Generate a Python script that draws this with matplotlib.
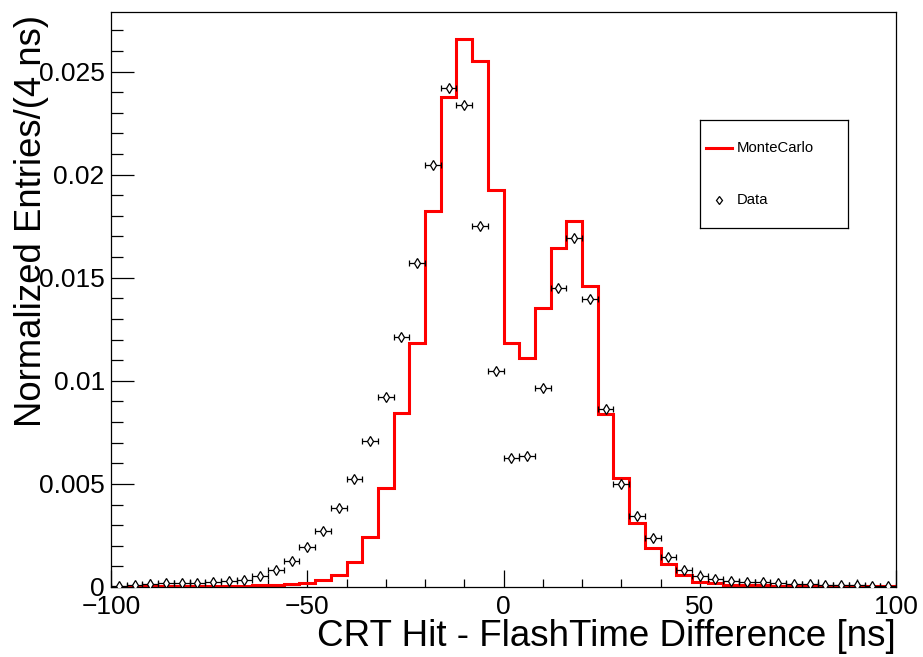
import numpy as np
import matplotlib
matplotlib.use("Agg")
import matplotlib.pyplot as plt
from matplotlib.ticker import MultipleLocator, FuncFormatter

plt.rcParams['font.family'] = ['Liberation Sans', 'DejaVu Sans']

# 4 ns bins from -100 to 100 ns
bin_edges = np.arange(-100, 101, 4)
bin_centers = 0.5 * (bin_edges[:-1] + bin_edges[1:])

# simulated (MonteCarlo) normalized entries per bin
mc_vals = [
    0.00002, 0.00002, 0.00003, 0.00003, 0.00003, 0.00004, 0.00004, 0.00005,
    0.00006, 0.00008, 0.00010, 0.00013, 0.00021, 0.00034, 0.00058, 0.00120,
    0.00241, 0.00479, 0.00845, 0.01182, 0.01822, 0.02378, 0.02656, 0.02551,
    0.01925,
    0.01182, 0.01109, 0.01355, 0.01646, 0.01775, 0.01460, 0.00839, 0.00530,
    0.00312, 0.00188, 0.00110, 0.00058, 0.00026, 0.00018, 0.00012, 0.00010,
    0.00008, 0.00007, 0.00006, 0.00005, 0.00005, 0.00004, 0.00004, 0.00003,
    0.00003,
]

# measured data, normalized entries per bin
data_vals = [
    0.00006, 0.00010, 0.00015, 0.00018, 0.00019, 0.00021, 0.00024, 0.00028,
    0.00034, 0.00052, 0.00082, 0.00128, 0.00192, 0.00273, 0.00385, 0.00524,
    0.00710, 0.00921, 0.01211, 0.01570, 0.02047, 0.02421, 0.02336, 0.01750,
    0.01048,
    0.00624, 0.00634, 0.00967, 0.01448, 0.01694, 0.01395, 0.00862, 0.00500,
    0.00346, 0.00236, 0.00147, 0.00084, 0.00053, 0.00037, 0.00029, 0.00026,
    0.00023, 0.00019, 0.00016, 0.00013, 0.00012, 0.00010, 0.00010, 0.00006,
    0.00005,
]

fig = plt.figure(figsize=(9.23, 6.57), dpi=100)
ax = fig.add_axes([111 / 923, 1 - 587 / 657, 785 / 923, 575 / 657])

ax.stairs(mc_vals, bin_edges, color='red', lw=2.2, zorder=2)
ax.errorbar(bin_centers, data_vals, xerr=2, fmt='d', ms=5, mfc='white',
            mec='black', mew=0.9, ecolor='black', elinewidth=0.9,
            capsize=2.5, capthick=0.9, zorder=3)

ax.set_xlim(-100, 100)
ax.set_ylim(0, 1.05 * max(mc_vals))

ax.xaxis.set_major_locator(MultipleLocator(50))
ax.xaxis.set_minor_locator(MultipleLocator(10))
ax.yaxis.set_major_locator(MultipleLocator(0.005))
ax.yaxis.set_minor_locator(MultipleLocator(0.001))
ax.yaxis.set_major_formatter(FuncFormatter(lambda v, p: '%g' % round(v, 4)))

ax.tick_params(axis='both', which='both', direction='in', top=False, right=False,
               labelsize=19, width=0.9)
ax.tick_params(axis='x', which='major', length=12, pad=6)
ax.tick_params(axis='x', which='minor', length=6)
ax.tick_params(axis='y', which='major', length=16.5, pad=4.5)
ax.tick_params(axis='y', which='minor', length=8.5)
for s in ax.spines.values():
    s.set_linewidth(0.9)

ax.set_xlabel('CRT Hit - FlashTime Difference [ns]', fontsize=26.5, loc='right')
ax.xaxis.set_label_coords(1.0, -0.056)
ax.set_ylabel('Normalized Entries/(4 ns)', fontsize=26.3, loc='top')
ax.yaxis.set_label_coords(-0.079, 0.995)

# legend box
leg_ax = fig.add_axes([700 / 923, 1 - 228 / 657, 148 / 923, 108 / 657])
leg_ax.set_xlim(0, 148)
leg_ax.set_ylim(108, 0)
leg_ax.set_xticks([])
leg_ax.set_yticks([])
for s in leg_ax.spines.values():
    s.set_linewidth(0.9)
leg_ax.plot([6, 32], [28, 28], color='red', lw=2.2)
leg_ax.plot([19], [80], marker='d', ms=4.5, mfc='white', mec='black', mew=0.9)
leg_ax.text(37, 28, 'MonteCarlo', fontsize=10.7, va='center', ha='left')
leg_ax.text(37, 80, 'Data', fontsize=10.7, va='center', ha='left')

fig.savefig('out.png', dpi=100)
